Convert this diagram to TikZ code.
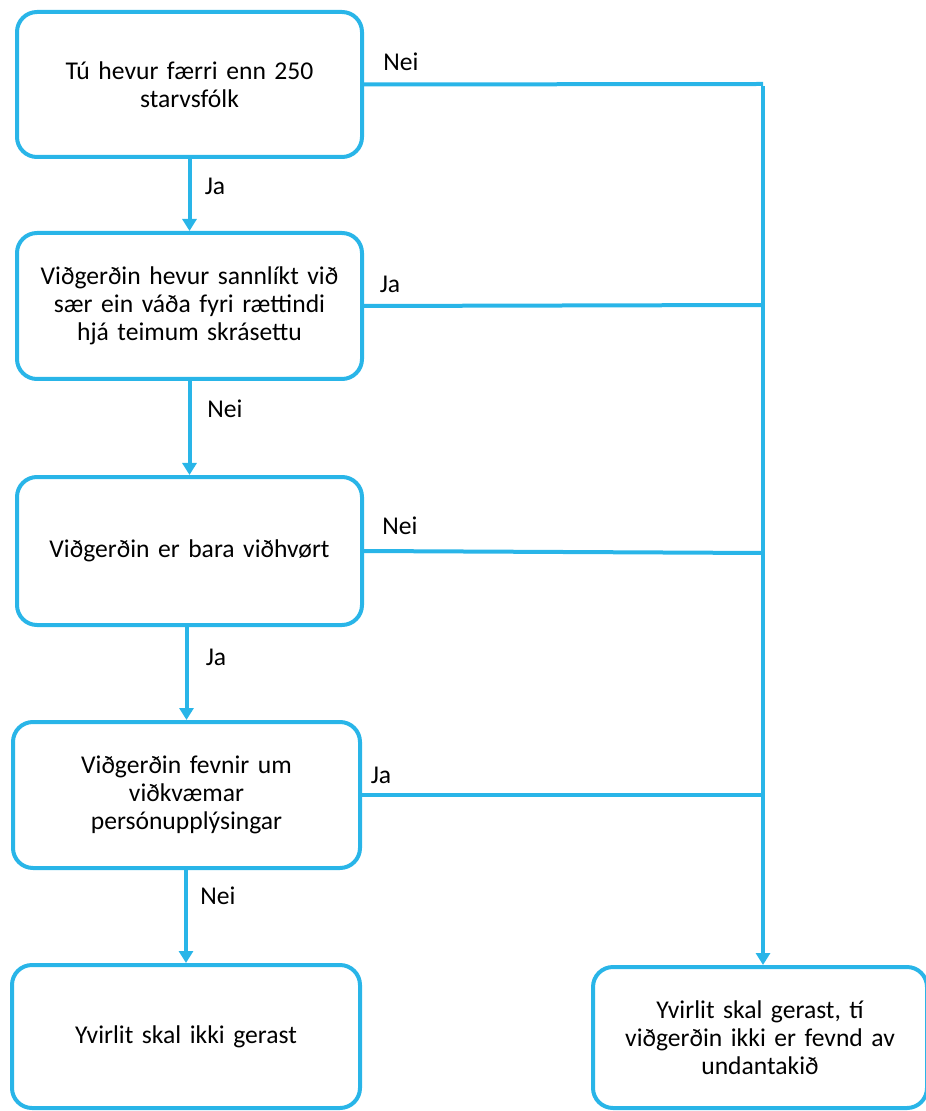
\documentclass[tikz,border=0pt]{standalone}
\usepackage{fontspec}
\setmainfont{Carlito}
\usepackage{tikz}
\usetikzlibrary{arrows.meta}
\definecolor{flowblue}{RGB}{41,181,232}

\begin{document}
\begin{tikzpicture}[x=0.5pt, y=-0.5pt, line width=2pt,
		box/.style={rectangle, rounded corners=10pt, draw=flowblue, line width=2pt, align=center, font=\fontsize{12.8}{14}\selectfont, text width=150pt, minimum width=172.5pt},
		arr/.style={-{Triangle[width=7pt,length=6pt]}, color=flowblue},
		lin/.style={-, color=flowblue},
		lab/.style={font=\fontsize{12.8}{14}\selectfont}]
		\useasboundingbox (0,0) rectangle (925,1111);

		\node (b1) [box, minimum height=72.5pt] at (189.5,84.5) {Tú hevur færri enn 250\\starvsfólk};
		\node (b2) [box, minimum height=73pt] at (189.5,306) {Viðgerðin hevur sannlíkt við\\sær ein váða fyri rættindi\\hjá teimum skrásettu};
		\node (b3) [box, minimum height=74pt] at (189.5,551) {Viðgerðin er bara viðhvørt};
		\node (b4) [box, minimum height=73pt, minimum width=173.5pt] at (186.5,795) {Viðgerðin fevnir um\\viðkvæmar\\persónupplýsingar};
		\node (b5) [box, minimum height=71.5pt, minimum width=174pt] at (186,1036.5) {Yvirlit skal ikki gerast};
		\node (b6) [box, minimum height=70.5pt, minimum width=167pt] at (760,1037.5) {Yvirlit skal gerast, tí\\viðgerðin ikki er fevnd av\\undantakið};

		\coordinate (t1) at (763,84);
		\coordinate (t2) at (763,305);
		\coordinate (t3) at (763,553);
		\coordinate (t4) at (763,795);

		\draw[arr] (b1.south) -- (b2.north);
		\node [lab] at (215,186) {Ja};
		\draw[arr] (b2.south) -- (b3.north);
		\node [lab] at (225,409) {Nei};
		\draw[arr] (b3.south -| b4.north) -- (b4.north);
		\node [lab] at (216,657) {Ja};
		\draw[arr] (b4.south -| b5.north) -- (b5.north);
		\node [lab] at (218,896) {Nei};

		\draw[lin] (b1.east) -- (t1);
		\node [lab] at (401,62) {Nei};
		\draw[lin] (b2.east) -- (t2);
		\node [lab] at (390,284) {Ja};
		\draw[lin] (b3.east) -- (t3);
		\node [lab] at (400,526) {Nei};
		\draw[lin] (b4.east) -- (t4);
		\node [lab] at (381,775) {Ja};
		\draw[arr] ([yshift=-1pt]t1) -- (t1 |- b6.north);
	\end{tikzpicture}
\end{document}
